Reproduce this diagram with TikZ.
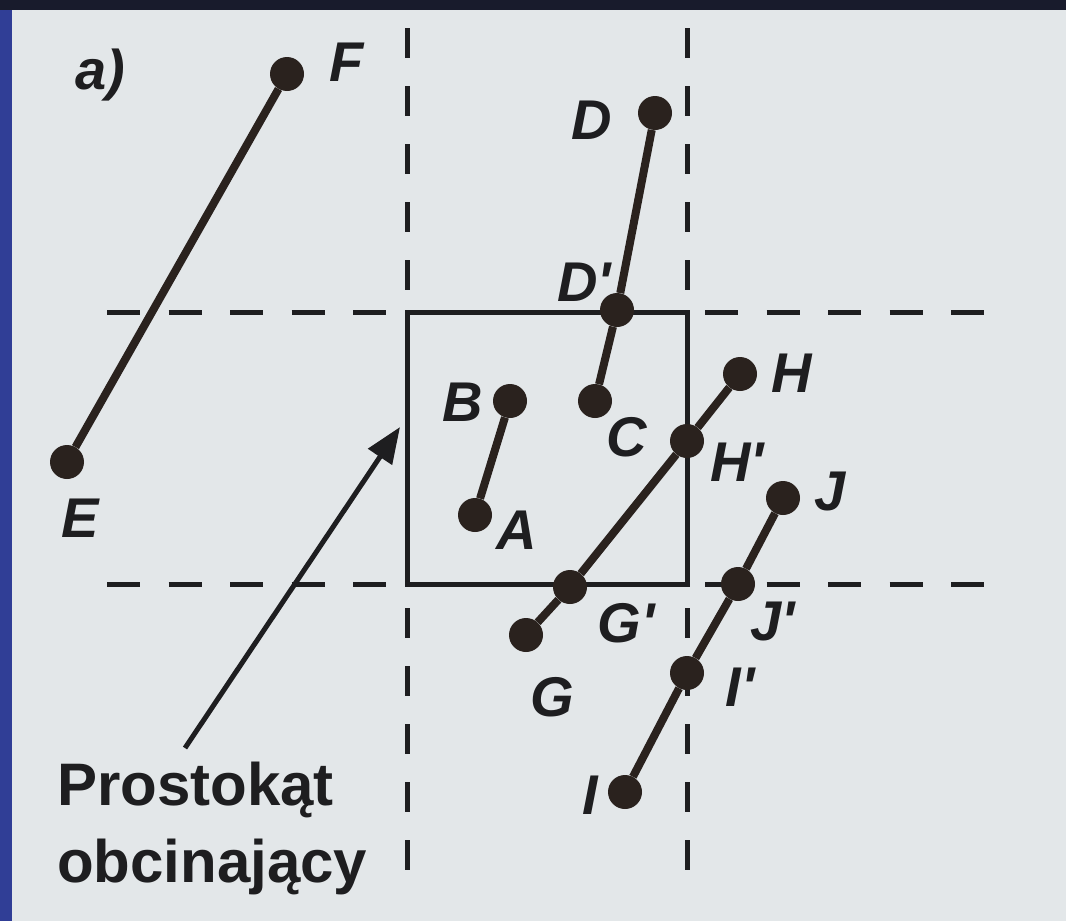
\documentclass[tikz,border=0pt]{standalone}
\usepackage{fontspec}
\setmainfont{Liberation Sans}
\usetikzlibrary{arrows.meta}
\definecolor{bg}{RGB}{227,231,233}
\definecolor{ink}{RGB}{30,30,32}
\definecolor{dotc}{RGB}{42,34,30}
\definecolor{edgeblue}{RGB}{48,62,150}
\definecolor{topdark}{RGB}{24,27,44}
\begin{document}
\begin{tikzpicture}[x=1pt,y=-1pt,
  pt/.style={circle,fill=dotc,inner sep=0pt,minimum size=34pt},
  lbl/.style={text=ink,font=\fontsize{56}{60}\selectfont\bfseries\itshape,inner sep=0pt},
  seg/.style={draw=dotc,line width=8pt},
  vguide/.style={draw=ink,line width=5pt,dash pattern=on 30pt off 28pt},
  hguide/.style={draw=ink,line width=5pt,dash pattern=on 33pt off 28.5pt},
  clip rect/.style={draw=ink,line width=5pt},
  pointer/.style={draw=ink,line width=5pt,-{Triangle[length=36pt,width=28pt]}},
  caption/.style={text=ink,font=\fontsize{60}{77}\selectfont\bfseries,align=left,inner sep=0pt}
]
\useasboundingbox (0,0) rectangle (1066,921);
\fill[bg] (0,0) rectangle (1066,921);
\fill[edgeblue] (0,0) rectangle (12,921);
\fill[topdark] (0,0) rectangle (1066,10);

% guide lines
\draw[vguide] (407,28) -- (407,872);
\draw[vguide] (687,28) -- (687,872);
\draw[hguide] (107,312) -- (407,312) (705,312) -- (990,312);
\draw[hguide] (107,584) -- (407,584) (705,584) -- (990,584);

% clipping rectangle
\draw[clip rect] (407,312) rectangle (687,584);

% caption and arrow
\node[caption,anchor=north west] (cap) at (57,762) {Prostokąt\\obcinający};
\coordinate (arrS) at (185,748);
\coordinate (arrT) at (400,427);
\draw[pointer] (arrS) -- (arrT);

% points
\node[pt] (F) at (287,74) {};
\node[pt] (E) at (67,462) {};
\node[pt] (D) at (655,113) {};
\node[pt] (Dp) at (617,310) {};
\node[pt] (C) at (595,401) {};
\node[pt] (B) at (510,401) {};
\node[pt] (A) at (475,515) {};
\node[pt] (H) at (740,374) {};
\node[pt] (Hp) at (687,441) {};
\node[pt] (Gp) at (570,587) {};
\node[pt] (G) at (526,635) {};
\node[pt] (J) at (783,498) {};
\node[pt] (Jp) at (738,584) {};
\node[pt] (Ip) at (687,673) {};
\node[pt] (I) at (625,792) {};

% segments
\draw[seg] (F) -- (E);
\draw[seg] (D) -- (Dp) -- (C);
\draw[seg] (B) -- (A);
\draw[seg] (H) -- (Hp) -- (Gp) -- (G);
\draw[seg] (J) -- (Jp) -- (Ip) -- (I);

% labels
\node[lbl] (la) at (100,75) {a)};
\node[lbl] (lF) at (347,62) {F};
\node[lbl] (lE) at (80,518) {E};
\node[lbl] (lD) at (592,120) {D};
\node[lbl] (lDp) at (584,282) {D\textquotesingle};
\node[lbl] (lB) at (463,402) {B};
\node[lbl] (lC) at (627,437) {C};
\node[lbl] (lA) at (517,530) {A};
\node[lbl] (lH) at (792,373) {H};
\node[lbl] (lHp) at (737,462) {H\textquotesingle};
\node[lbl] (lJ) at (830,492) {J};
\node[lbl] (lJp) at (773,622) {J\textquotesingle};
\node[lbl] (lGp) at (626,623) {G\textquotesingle};
\node[lbl] (lG) at (552,697) {G};
\node[lbl] (lIp) at (740,687) {I\textquotesingle};
\node[lbl] (lI) at (590,795) {I};
\end{tikzpicture}
\end{document}
